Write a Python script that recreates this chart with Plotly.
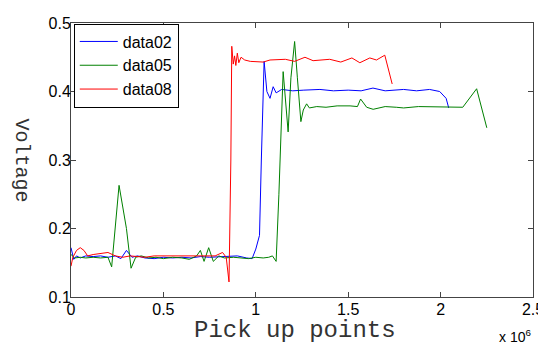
import plotly.graph_objects as go

# x values in units of 10^6 pick-up points
x_data02 = [0.00, 0.015, 0.03, 0.05, 0.08, 0.12, 0.16, 0.20, 0.24, 0.27, 0.30, 0.33, 0.36, 0.40, 0.45, 0.50,
            0.55, 0.60, 0.65, 0.70, 0.75, 0.80, 0.85, 0.90, 0.95, 0.98, 1.00, 1.02, 1.03, 1.045, 1.06, 1.077,
            1.094, 1.11, 1.14, 1.20, 1.26, 1.347, 1.42, 1.50, 1.57, 1.634, 1.70, 1.80, 1.87, 1.94, 1.995,
            2.03, 2.044]
y_data02 = [0.172, 0.155, 0.160, 0.157, 0.160, 0.159, 0.160, 0.158, 0.160, 0.156, 0.168, 0.158, 0.160, 0.157,
            0.156, 0.158, 0.157, 0.158, 0.157, 0.159, 0.158, 0.159, 0.160, 0.160, 0.157, 0.156, 0.170, 0.190,
            0.300, 0.444, 0.400, 0.390, 0.407, 0.398, 0.403, 0.401, 0.402, 0.403, 0.401, 0.402, 0.401, 0.405,
            0.401, 0.403, 0.401, 0.403, 0.400, 0.390, 0.376]

x_data05 = [0.00, 0.02, 0.05, 0.08, 0.12, 0.16, 0.20, 0.22, 0.26, 0.30, 0.325, 0.35, 0.38, 0.42, 0.46, 0.50,
            0.55, 0.60, 0.64, 0.68, 0.70, 0.72, 0.745, 0.77, 0.80, 0.83, 0.88, 0.92, 0.96, 1.00, 1.04, 1.07,
            1.09, 1.11, 1.125, 1.148, 1.16, 1.175, 1.19, 1.21, 1.225, 1.244, 1.257, 1.275, 1.29, 1.33, 1.38,
            1.44, 1.51, 1.55, 1.567, 1.60, 1.635, 1.70, 1.76, 1.80, 1.88, 1.98, 2.05, 2.12, 2.195, 2.25]
y_data05 = [0.162, 0.157, 0.158, 0.157, 0.158, 0.157, 0.158, 0.144, 0.263, 0.200, 0.142, 0.158, 0.160, 0.157,
            0.158, 0.156, 0.158, 0.157, 0.155, 0.160, 0.168, 0.152, 0.172, 0.152, 0.160, 0.157, 0.158, 0.157,
            0.156, 0.158, 0.157, 0.158, 0.160, 0.152, 0.250, 0.429, 0.390, 0.341, 0.420, 0.473, 0.420, 0.356,
            0.373, 0.382, 0.376, 0.378, 0.377, 0.379, 0.379, 0.378, 0.389, 0.377, 0.374, 0.378, 0.377, 0.376,
            0.378, 0.378, 0.377, 0.377, 0.404, 0.347]

x_data08 = [0.00, 0.01, 0.03, 0.05, 0.07, 0.09, 0.12, 0.16, 0.20, 0.24, 0.28, 0.32, 0.36, 0.40, 0.45, 0.50,
            0.55, 0.60, 0.65, 0.70, 0.74, 0.78, 0.82, 0.84, 0.855, 0.865, 0.870, 0.878, 0.885, 0.892, 0.900,
            0.908, 0.92, 0.94, 0.97, 1.00, 1.04, 1.077, 1.12, 1.16, 1.21, 1.266, 1.31, 1.36, 1.40, 1.46,
            1.52, 1.563, 1.617, 1.653, 1.698, 1.738]
y_data08 = [0.145, 0.158, 0.168, 0.172, 0.168, 0.160, 0.162, 0.164, 0.165, 0.160, 0.158, 0.160, 0.159, 0.158,
            0.160, 0.160, 0.160, 0.159, 0.160, 0.160, 0.159, 0.160, 0.165, 0.158, 0.122, 0.300, 0.466, 0.440,
            0.452, 0.438, 0.456, 0.442, 0.450, 0.446, 0.444, 0.444, 0.443, 0.446, 0.446, 0.447, 0.444, 0.450,
            0.445, 0.446, 0.447, 0.443, 0.449, 0.442, 0.449, 0.446, 0.453, 0.411]

x_ticks = [0, 0.5, 1, 1.5, 2, 2.5]
x_tick_labels = ["0", "0.5", "1", "1.5", "2", "2.5"]
y_ticks = [0.1, 0.2, 0.3, 0.4, 0.5]
y_tick_labels = ["0.1", "0.2", "0.3", "0.4", "0.5"]

fig = go.Figure()
fig.add_trace(go.Scatter(x=x_data02, y=y_data02, mode="lines", name="data02",
                         line=dict(color="#0000ff", width=1)))
fig.add_trace(go.Scatter(x=x_data05, y=y_data05, mode="lines", name="data05",
                         line=dict(color="#008000", width=1)))
fig.add_trace(go.Scatter(x=x_data08, y=y_data08, mode="lines", name="data08",
                         line=dict(color="#ff0000", width=1)))

axis_common = dict(showgrid=False, zeroline=False, showline=True, linecolor="#444444", linewidth=1,
                   mirror="allticks", ticks="inside", ticklen=5, tickcolor="#444444", automargin=False,
                   tickfont=dict(family="Liberation Sans, Arial", size=16, color="black"))

fig.update_xaxes(range=[0, 2.5], tickvals=x_ticks, ticktext=x_tick_labels, ticklabelstandoff=-2,
                 **axis_common)
fig.update_yaxes(range=[0.1, 0.5], tickvals=y_ticks, ticktext=y_tick_labels, ticklabelstandoff=-4,
                 **axis_common)

# The page body has an 8px default margin, so the figure is 8px smaller and margins shifted by 8px.
fig.update_layout(
    width=538, height=339,
    margin=dict(l=63, r=13, t=15, b=50, autoexpand=False),
    paper_bgcolor="white", plot_bgcolor="white",
    showlegend=True,
    legend=dict(x=0.006, y=0.998, xanchor="left", yanchor="top", bgcolor="white",
                bordercolor="black", borderwidth=1,
                font=dict(family="Liberation Sans, Arial", size=16, color="black"),
                itemwidth=38, tracegroupgap=0),
    annotations=[
        dict(text="Pick up points", x=0.485, y=0, xref="paper", yref="paper", xanchor="center",
             yanchor="middle", yshift=-33, showarrow=False,
             font=dict(family="Liberation Mono, Courier New, monospace", size=24, color="#333333")),
        dict(text="Voltage", x=0, y=0.5, xref="paper", yref="paper", xanchor="center", yanchor="middle",
             xshift=-49.5, textangle=90, showarrow=False,
             font=dict(family="Liberation Mono, Courier New, monospace", size=20, color="#333333")),
        dict(text="x 10<sup>6</sup>", x=1, y=0, xref="paper", yref="paper", xanchor="right",
             yanchor="middle", yshift=-39, xshift=0, showarrow=False,
             font=dict(family="Liberation Sans, Arial", size=14, color="black")),
    ],
)

fig.write_html("out.html")
